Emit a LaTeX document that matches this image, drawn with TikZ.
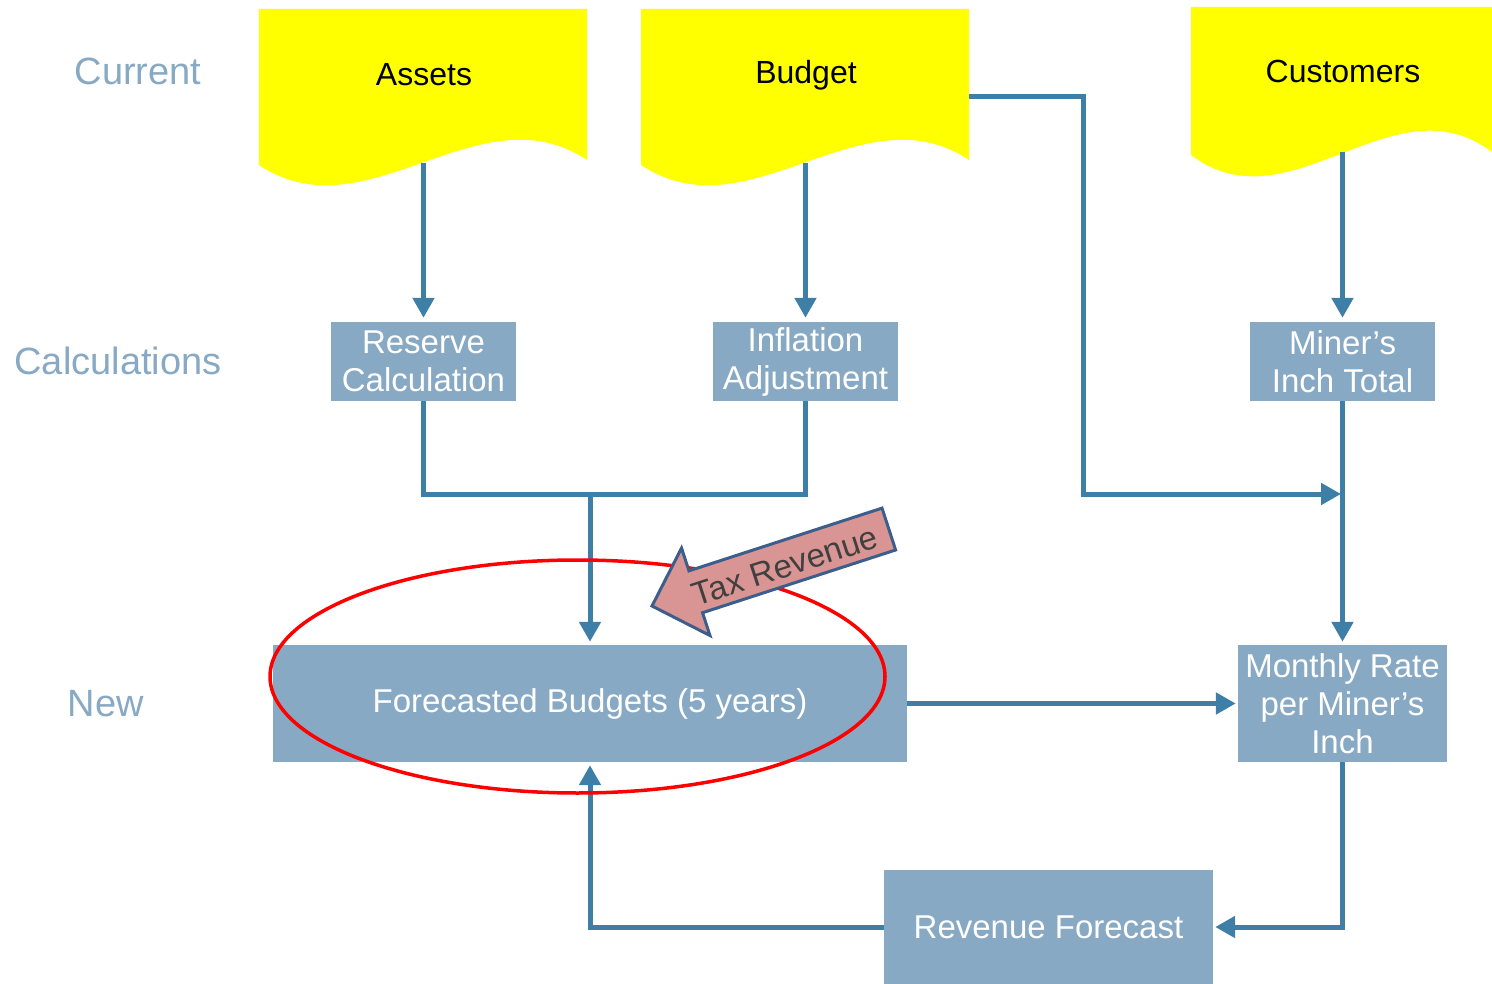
\documentclass[tikz,border=0pt]{standalone}
\usepackage{fontspec}
\setmainfont{Liberation Sans}
\usetikzlibrary{arrows.meta}
\definecolor{boxfill}{HTML}{87A9C4}
\definecolor{linec}{HTML}{3E7FA7}
\definecolor{labelc}{HTML}{87A9C4}
\definecolor{docy}{HTML}{FFFF00}
\definecolor{taxfill}{HTML}{D99594}
\definecolor{taxline}{HTML}{3B5E8C}
\definecolor{taxtext}{HTML}{404040}
\begin{document}
\begin{tikzpicture}[x=1pt,y=-1pt,
 procbox/.style={fill=boxfill, text=white, inner sep=0pt, align=center, font=\fontsize{33}{38}\selectfont},
 sidelabel/.style={text=labelc, font=\fontsize{38}{44}\selectfont, inner sep=0pt},
 doctext/.style={text=black, font=\fontsize{32}{38}\selectfont, inner sep=0pt},
 docshape/.style={fill=docy, draw=none},
 conn/.style={draw=linec, line width=5pt},
 arr/.style={conn, -{Triangle[width=21pt,length=20pt]}},
]
\useasboundingbox (0,0) rectangle (1492,984);

% side labels
\node[sidelabel] (lcur) at (138,71) {Current};
\node[sidelabel] (lcalc) at (118,361) {Calculations};
\node[sidelabel] (lnew) at (106,704) {New};

% documents
\path[docshape] (259,9) -- (587,9) -- (587,160) .. controls (479,88) and (367,237) .. (259,165) -- cycle;
\path[docshape] (641,9) -- (969,9) -- (969,160) .. controls (861,88) and (749,237) .. (641,165) -- cycle;
\path[docshape] (1191,7) -- (1492,7) -- (1492,152) .. controls (1393,77) and (1290,230) .. (1191,155) -- cycle;
\node[doctext] (assets) at (424,75) {Assets};
\node[doctext] (budget) at (806,75) {Budget};
\node[doctext] (customers) at (1343,71) {Customers};
\coordinate (assetsB) at (423.5,163);
\coordinate (budgetB) at (805.5,163);
\coordinate (custB) at (1342.5,152);
\coordinate (budgetR) at (969,97);

% process boxes
\node[procbox, minimum width=185pt, minimum height=79pt] (reserve) at (423.5,361.5) {Reserve\\Calculation};
\node[procbox, minimum width=185pt, minimum height=79pt] (inflation) at (805.5,361.5) {Inflation\\Adjustment};
\node[procbox, minimum width=185pt, minimum height=79pt] (miner) at (1342.5,361.5) {Miner’s\\Inch Total};
\node[procbox, minimum width=634pt, minimum height=117pt] (forecast) at (590,703.5) {Forecasted Budgets (5 years)};
\node[procbox, minimum width=209pt, minimum height=117pt] (monthly) at (1342.5,703.5) {Monthly Rate\\per Miner’s\\Inch};
\node[procbox, minimum width=329pt, minimum height=114pt] (revenue) at (1048.5,927) {Revenue Forecast};

% connectors
\draw[arr, shorten >=4pt] (assetsB) -- (reserve.north);
\draw[arr, shorten >=4pt] (budgetB) -- (inflation.north);
\draw[arr, shorten >=4pt] (custB) -- (miner.north);
\coordinate (junc) at (590,494);
\coordinate (minerJ) at (1341,494);
\draw[conn] (reserve.south) -- ++(0,93) -| (inflation.south);
\draw[arr, shorten >=3pt] (junc) -- (junc |- forecast.north);
\draw[arr] (budgetR) -| (1083,494) -- (minerJ);
\draw[arr, shorten >=3pt] (miner.south) -- (monthly.north);
\draw[arr, shorten >=2pt] (forecast.east) -- (monthly.west);
\draw[arr, shorten >=2pt] (monthly.south) |- (revenue.east);
\draw[arr, shorten >=3pt] (revenue.west) -| (forecast.south);

% red ellipse
\draw[red, line width=3.5pt] (577.5,676.5) ellipse [x radius=307.5pt, y radius=116.5pt];

% Tax revenue block arrow
\begin{scope}[shift={(652,606)}, rotate=18]
\draw[fill=taxfill, draw=taxline, line width=3pt, line join=miter]
  (0,0) -- (46,-46) -- (46,-22) -- (249,-22) -- (249,22) -- (46,22) -- (46,46) -- cycle;
\end{scope}
\node[text=taxtext, rotate=18, font=\fontsize{33}{38}\selectfont, inner sep=0pt] (tax) at (785,566) {Tax Revenue};
\end{tikzpicture}
\end{document}
